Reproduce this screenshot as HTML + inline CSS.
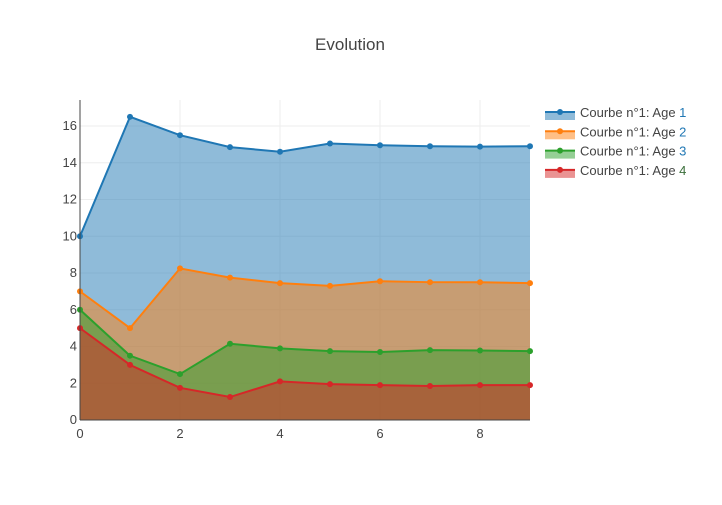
<!DOCTYPE html>
<html><head><meta charset="utf-8"><style>
body{margin:0;background:#fff;font-family:"Liberation Sans",sans-serif;}
svg text{font-family:"Liberation Sans",sans-serif;}
</style></head><body>
<svg id="chart" width="722" height="500" xmlns="http://www.w3.org/2000/svg">
<text x="350" y="50" text-anchor="middle" font-size="17" fill="#444">Evolution</text>
<g id="grid"></g><g id="areas"></g><g id="lines"></g><g id="axes"></g><g id="legend"></g>
</svg>
<script>
const xValues=[0,1,2,3,4,5,6,7,8,9];
const age1=[10,16.5,15.5,14.85,14.6,15.05,14.95,14.9,14.88,14.9];
const age2=[7,5,8.25,7.75,7.45,7.3,7.55,7.5,7.5,7.45];
const age3=[6,3.5,2.5,4.15,3.9,3.75,3.7,3.8,3.78,3.75];
const age4=[5,3,1.75,1.25,2.1,1.95,1.9,1.85,1.9,1.9];
const seriesNames=["Courbe n°1: Age ","Courbe n°1: Age ","Courbe n°1: Age ","Courbe n°1: Age "];
const seriesNums=["1","2","3","4"];
const numColors=["#1f77b4","#1f77b4","#1f77b4","#3a6e3a"];
const xTicks=[0,2,4,6,8];
const yTicks=[0,2,4,6,8,10,12,14,16];
const colors=["#1f77b4","#ff7f0e","#2ca02c","#d62728"];
const series=[age1,age2,age3,age4];
const NS="http://www.w3.org/2000/svg";
const X0=80,X1=530,Y0=420,YT=100;
const xs=v=>X0+v*(X1-X0)/9;
const ys=v=>Y0-v*18.375;
function mk(tag,attrs,parent){const e=document.createElementNS(NS,tag);for(const k in attrs)e.setAttribute(k,attrs[k]);parent.appendChild(e);return e;}
const grid=document.getElementById('grid'),areas=document.getElementById('areas'),lines=document.getElementById('lines'),axes=document.getElementById('axes'),legend=document.getElementById('legend');
xTicks.forEach(t=>{
 if(t>0){const g=mk('line',{x1:xs(t),x2:xs(t),y1:YT,y2:Y0,stroke:'#eee'},grid);
 
 }
 const l=mk('text',{x:xs(t),y:Y0+18,'text-anchor':'middle','font-size':13,fill:'#444'},axes);l.textContent=t;
 
 
});
yTicks.forEach(t=>{
 if(t>0){const g=mk('line',{x1:X0,x2:X1,y1:ys(t),y2:ys(t),stroke:'#eee'},grid);
 
 }
 const l=mk('text',{x:X0-3,y:ys(t)+4,'text-anchor':'end','font-size':13,fill:'#444'},axes);l.textContent=t;
 
 
});
series.forEach((s,i)=>{
 const pts=s.map((v,j)=>xs(xValues[j])+','+ys(v)).join(' ');
 const a=mk('polygon',{points:xs(xValues[0])+','+Y0+' '+pts+' '+xs(xValues[xValues.length-1])+','+Y0,fill:colors[i],'fill-opacity':0.5},areas);
 
 
 const p=mk('polyline',{points:pts,fill:'none',stroke:colors[i],'stroke-width':2},lines);
 
 
 s.forEach((v,j)=>{const c=mk('circle',{cx:xs(xValues[j]),cy:ys(v),r:3,fill:colors[i]},lines);
 
 });
 const ly=115+i*19.3;
 const sw=mk('rect',{x:545,y:ly-3,width:30,height:8,fill:colors[i],'fill-opacity':0.5},legend);
 
 
 const ln=mk('line',{x1:545,x2:575,y1:ly-3,y2:ly-3,stroke:colors[i],'stroke-width':2},legend);
 
 
 const dc=mk('circle',{cx:560,cy:ly-3,r:3,fill:colors[i]},legend);
 
 
 const t=mk('text',{x:580,y:ly+2,'font-size':13,fill:'#444'},legend);
 
 
 t.appendChild(document.createTextNode(seriesNames[i]));
 const n=mk('tspan',{fill:numColors[i]},t);n.textContent=seriesNums[i];
});
const ax=mk('line',{x1:X0,x2:X0,y1:YT,y2:Y0,stroke:'#444','stroke-width':1},axes);


const bx=mk('line',{x1:X0,x2:X1,y1:Y0,y2:Y0,stroke:'#444','stroke-width':1},axes);


</script>
</body></html>
